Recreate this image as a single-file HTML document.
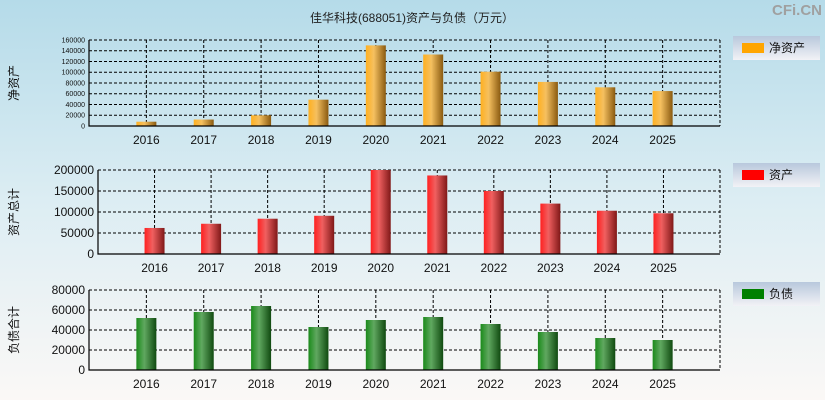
<!DOCTYPE html>
<html><head><meta charset="utf-8"><style>
html,body{margin:0;padding:0}
body{width:825px;height:400px;overflow:hidden;background:linear-gradient(#b5dbe9,#dcedf3 50%,#fbf8f6);font-family:"Liberation Sans","Noto Sans CJK SC",sans-serif}
svg{display:block}
</style></head><body>
<svg id="c" width="825" height="400" xmlns="http://www.w3.org/2000/svg">
<defs>
<linearGradient id="gO" x1="0" x2="1"><stop offset="0" stop-color="#ffb020"/><stop offset="0.4" stop-color="#f5c060"/><stop offset="1" stop-color="#8a5a10"/></linearGradient>
<linearGradient id="gR" x1="0" x2="1"><stop offset="0" stop-color="#ff2020"/><stop offset="0.4" stop-color="#f06060"/><stop offset="1" stop-color="#801818"/></linearGradient>
<linearGradient id="gG" x1="0" x2="1"><stop offset="0" stop-color="#1a8a1a"/><stop offset="0.4" stop-color="#60a860"/><stop offset="1" stop-color="#104a10"/></linearGradient>
<linearGradient id="gL" x1="0" y1="0" x2="0" y2="1"><stop offset="0" stop-color="#b8c8dc"/><stop offset="1" stop-color="#f2f2f6"/></linearGradient>
</defs>
<text x="412" y="22" text-anchor="middle" font-size="12" fill="#222">佳华科技(688051)资产与负债（万元）</text>
<text x="822" y="15" text-anchor="end" font-size="15" font-weight="bold" fill="#a0a0a0">CFi.CN</text>
</svg>
<script>
const years=["2016","2017","2018","2019","2020","2021","2022","2023","2024","2025"];
const netAssets=[8000,12000,20000,49000,150000,133000,101000,82000,72000,65000];
const totalAssets=[62000,72000,84000,91000,200000,187000,150000,120000,103000,97000];
const liabilities=[52000,58000,64000,43000,50000,53000,46000,38000,32000,30000];
const ticks1=[0,20000,40000,60000,80000,100000,120000,140000,160000];
const ticks2=[0,50000,100000,150000,200000];
const ticks3=[0,20000,40000,60000,80000];
const svg=document.getElementById('c');
const NS='http://www.w3.org/2000/svg';
function mk(t,a,txt){const e=document.createElementNS(NS,t);for(const k in a)e.setAttribute(k,a[k]);if(txt!==undefined)e.textContent=txt;svg.appendChild(e);return e;}
function panel(p){
  const x0=p.x0,x1=720,top=p.top,bot=p.bot,max=p.ticks[p.ticks.length-1];
  const slot=(x1-x0)/11;
  const xs=i=>x0+(i+1)*slot;
  const ys=v=>bot-(v/max)*(bot-top);
  p.ticks.forEach(t=>{
    if(t>0){const g=mk('line',{x1:x0,x2:x1,y1:ys(t),y2:ys(t),stroke:'#000','stroke-dasharray':'3,2','stroke-width':1});
    
    }
    const l=mk('text',{x:x0-4,y:ys(t)+p.fs*0.35,'text-anchor':'end','font-size':p.fs,fill:'#111'},t);
    
    
  });
  years.forEach((y,i)=>{
    const g=mk('line',{x1:xs(i),x2:xs(i),y1:top,y2:bot,stroke:'#000','stroke-dasharray':'3,2'});
    
    
  });
  mk('line',{x1:x1,x2:x1,y1:top,y2:bot,stroke:'#000','stroke-dasharray':'3,2'});
  p.data.forEach((v,i)=>{
    const b=mk('rect',{x:xs(i)-10,y:ys(v),width:20,height:bot-ys(v),fill:p.fill});
    
    
    const l=mk('text',{x:xs(i),y:bot+18,'text-anchor':'middle','font-size':12,fill:'#111'},years[i]);
    
    
  });
  const ax=mk('path',{d:`M${x0},${top}V${bot}H${x1}`,stroke:'#000',fill:'none','stroke-width':1.2});
  
  
  const ty=(top+bot)/2;
  const t=mk('text',{x:18,y:ty,'text-anchor':'middle','font-size':12,fill:'#111',transform:`rotate(-90 18 ${ty})`},p.title);
  
  
  const lb=mk('rect',{x:733,y:p.ly,width:87,height:24,fill:'url(#gL)'});
  
  
  const sw=mk('rect',{x:742,y:p.ly+7,width:22,height:10,fill:p.sw});
  
  
  const lt=mk('text',{x:769,y:p.ly+16,'font-size':12,fill:'#111'},p.legend);
  
  
}
panel({key:'net',x0:89,top:40,bot:126,ticks:ticks1,data:netAssets,fill:'url(#gO)',sw:'#ffa500',fs:7,title:'净资产',legend:'净资产',ly:36});
panel({key:'assets',x0:98,top:170,bot:254,ticks:ticks2,data:totalAssets,fill:'url(#gR)',sw:'#ff0000',fs:12,title:'资产总计',legend:'资产',ly:163});
panel({key:'liab',x0:89,top:290,bot:370,ticks:ticks3,data:liabilities,fill:'url(#gG)',sw:'#008000',fs:12,title:'负债合计',legend:'负债',ly:282});
</script>
</body></html>
